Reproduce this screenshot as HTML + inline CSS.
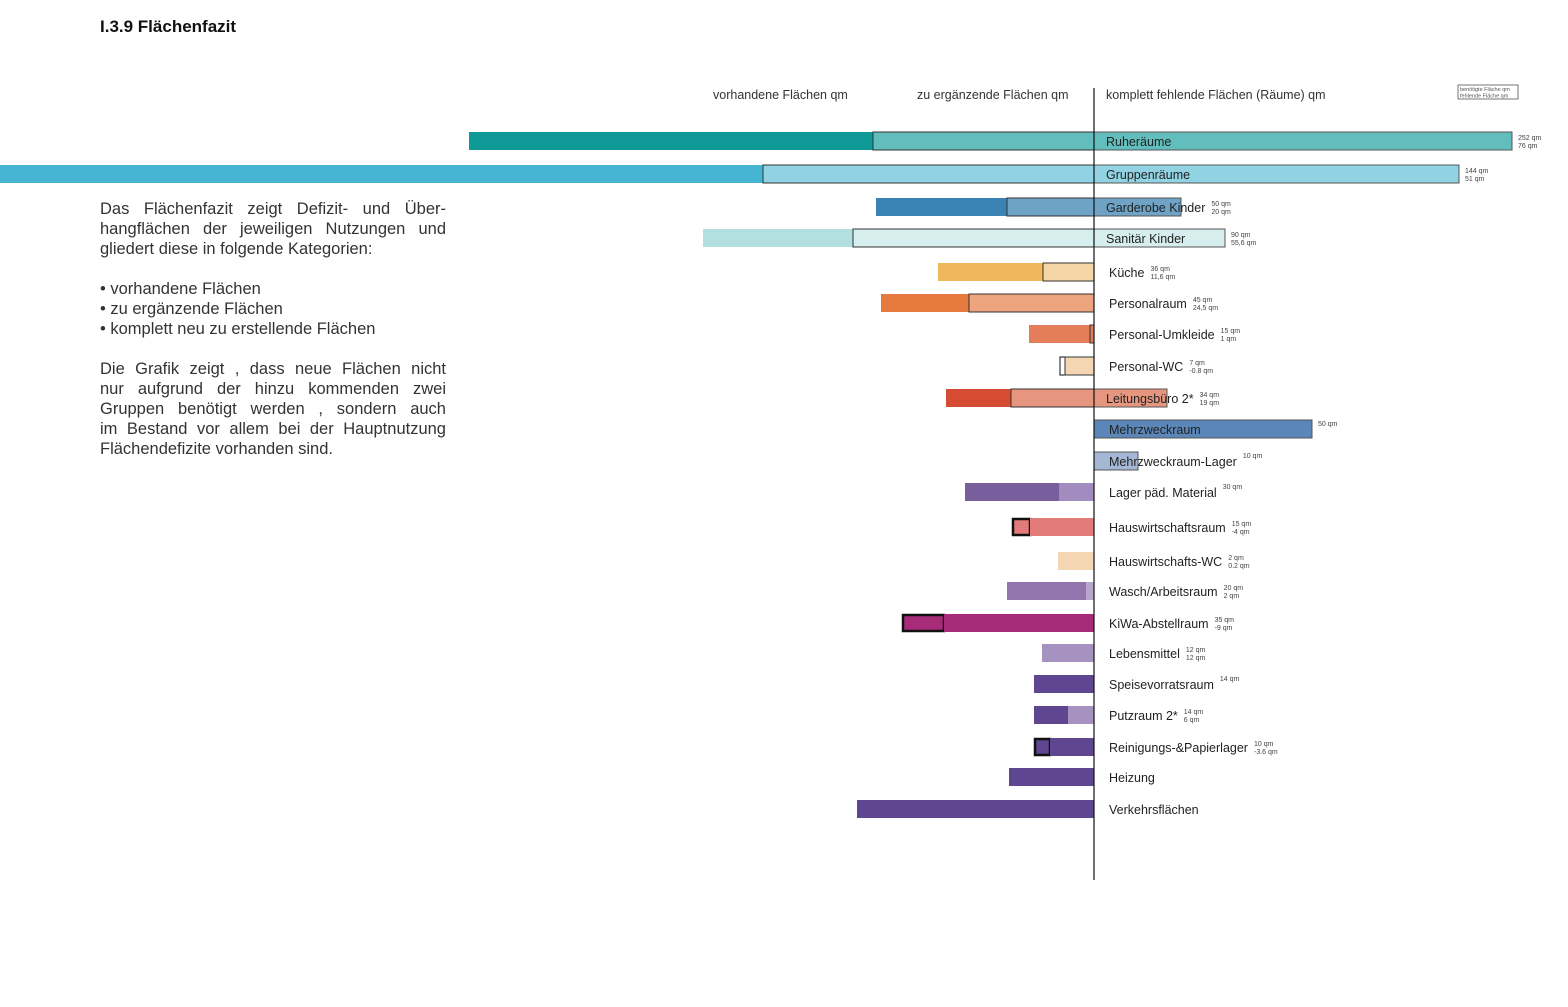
<!DOCTYPE html>
<html><head><meta charset="utf-8">
<style>
body{margin:0;width:1568px;height:1007px;background:#fff;position:relative;overflow:hidden;font-family:"Liberation Sans",sans-serif;color:#222}
#title{position:absolute;left:100px;top:17px;font-size:17px;font-weight:bold;color:#111}
#desc{position:absolute;left:100px;top:199px;width:346px;font-size:16.5px;line-height:20px;color:#333}
#desc div{white-space:nowrap}
.j{text-align:justify;text-align-last:justify;white-space:normal!important}
svg{position:absolute;left:0;top:0}
</style></head><body>
<div id="title">I.3.9 Flächenfazit</div>
<div id="desc">
<div class="j">Das Flächenfazit zeigt Defizit- und Über-</div>
<div class="j">hangflächen der jeweiligen Nutzungen und</div>
<div>gliedert diese in folgende Kategorien:</div>
<div>&nbsp;</div>
<div>• vorhandene Flächen</div>
<div>• zu ergänzende Flächen</div>
<div>• komplett neu zu erstellende Flächen</div>
<div>&nbsp;</div>
<div class="j">Die Grafik zeigt , dass neue Flächen nicht</div>
<div class="j">nur aufgrund der hinzu kommenden zwei</div>
<div class="j">Gruppen benötigt werden , sondern auch</div>
<div class="j">im Bestand vor allem bei der Hauptnutzung</div>
<div>Flächendefizite vorhanden sind.</div>
</div>
<svg id="chart" width="1568" height="1007"></svg>
<script>
const categories=["Ruheräume","Gruppenräume","Garderobe Kinder","Sanitär Kinder","Küche","Personalraum","Personal-Umkleide","Personal-WC","Leitungsbüro 2*","Mehrzweckraum","Mehrzweckraum-Lager","Lager päd. Material","Hauswirtschaftsraum","Hauswirtschafts-WC","Wasch/Arbeitsraum","KiWa-Abstellraum","Lebensmittel","Speisevorratsraum","Putzraum 2*","Reinigungs-&Papierlager","Heizung","Verkehrsflächen"];
const existing=[404,763,131,150,105,88,61,5,65,0,0,94,17,0,79,41,0,60,34,15,85,237];
const toAdd=[221,331,87,241,51,125,4,29,83,0,0,35,64,36,8,150,52,0,26,44,0,0];
const missing=[418,365,87,131,0,0,0,0,73,218,44,0,0,0,0,0,0,0,0,0,0,0];
const noteTop=["252 qm","144 qm","50 qm","90 qm","36 qm","45 qm","15 qm","7 qm","34 qm","50 qm","10 qm","30 qm","15 qm","2 qm","20 qm","35 qm","12 qm","14 qm","14 qm","10 qm","",""];
const noteBottom=["76 qm","51 qm","20 qm","55,6 qm","11,6 qm","24,5 qm","1 qm","-0.8 qm","19 qm","","","","-4 qm","0.2 qm","2 qm","-9 qm","12 qm","","6 qm","-3.6 qm","",""];
const rowY=[141,174,207,238,272,303,334,366,398,429,461,492,527,561,591,623,653,684,715,747,777,809];
const darkCol=["#0e9896","#45b5d3","#3a82b3","#b2dfe0","#f0b85a","#e67a3e","#e47e5a","#fff","#d64c33","#5b86b8","#a4b8d6","#785e9c","#e47b7b","#f5d6b3","#9275ad","#a82b7a","#a592c0","#5e4690","#5e4690","#5e4690","#5e4690","#5e4690"];
const lightCol=["#62bdbd","#92d3e3","#6fa3c6","#d6eeee","#f6d6a4","#eca57e","#e47e5a","#f5d6b3","#e6967f","#5b86b8","#a4b8d6","#a08cbe","#e47b7b","#f5d6b3","#b8a6cf","#a82b7a","#a592c0","#5e4690","#a592c0","#5e4690","#5e4690","#5e4690"];
const boxed=[12,15,19];
const AX=1094, S=1, H=18;
const svg=document.getElementById('chart');const NS='http://www.w3.org/2000/svg';
function x(v){return AX+v*S;}
function mk(t,a){const e=document.createElementNS(NS,t);for(const k in a)e.setAttribute(k,a[k]);svg.appendChild(e);return e;}
function txt(s,xx,yy,size,fill){const e=mk('text',{x:xx,y:yy,'font-size':size,fill:fill||'#222','font-family':'Liberation Sans, sans-serif'});e.textContent=s;return e;}
let h=txt('vorhandene Flächen qm',713,99,12.5,'#333');


h=txt('zu ergänzende Flächen qm',917,99,12.5,'#333');


h=txt('komplett fehlende Flächen (Räume) qm',1106,99,12.5,'#333');


let lg=mk('rect',{x:1458,y:85,width:60,height:14,fill:'#fff',stroke:'#555','stroke-width':0.8});


txt('benötigte Fläche qm',1460,91,5.5,'#555');
txt('fehlende Fläche qm',1460,97.5,5.5,'#555');
categories.forEach((c,i)=>{
  const y=rowY[i]-H/2;
  const addStart=x(-toAdd[i]);
  const exStart=addStart-existing[i]*S;
  if(existing[i]>0){
    const isBox=boxed.includes(i);
    const r=mk('rect',{x:exStart,y:isBox?y+1:y,width:existing[i]*S,height:isBox?H-2:H,fill:isBox?lightCol[i]:darkCol[i],stroke:isBox||i==7?'#111':'none','stroke-width':isBox?2.5:1});
    
    
  }
  if(toAdd[i]>0){
    const r=mk('rect',{x:addStart,y:y,width:toAdd[i]*S,height:H,fill:lightCol[i],stroke:i<9?'#333':'none','stroke-width':1});
    
    
  }
  if(missing[i]>0){
    const r=mk('rect',{x:AX,y:y,width:missing[i]*S,height:H,fill:lightCol[i],stroke:'#555','stroke-width':1});
    
    
  }
  const lx=i<4||i==8?1106:1109;
  const t=txt(c,lx,rowY[i]+5,12.5,'#222');
  
  
  const w=t.getComputedTextLength();
  const nx=Math.max(lx+w+6,x(missing[i])+6);
  if(noteTop[i]){txt(noteTop[i],nx,noteBottom[i]?rowY[i]-1:rowY[i]-3,7,'#444');}
  if(noteBottom[i]){txt(noteBottom[i],nx,rowY[i]+7,7,'#444');}
});
const ax=mk('line',{x1:AX,y1:88,x2:AX,y2:880,stroke:'#111','stroke-width':1.2});


</script>
</body></html>
